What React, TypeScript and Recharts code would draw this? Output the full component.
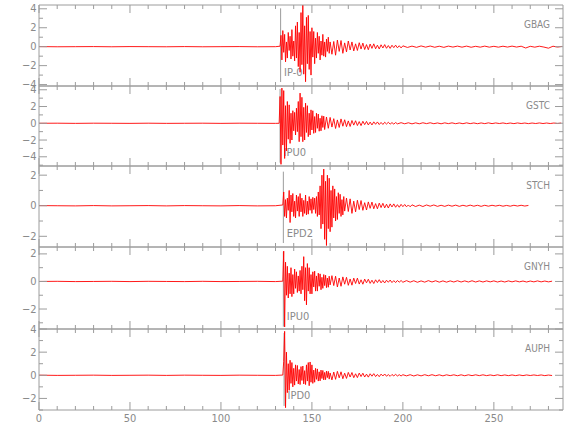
import React from 'react'
import { LineChart, Line, XAxis, YAxis, ReferenceLine } from 'recharts'

// ---- axis setup ----
const X_MAX = 288
const X_MAJOR = [0, 50, 100, 150, 200, 250]
const X_TICKS = [0, 10, 20, 30, 40, 50, 60, 70, 80, 90, 100, 110, 120, 130, 140, 150, 160, 170, 180, 190, 200, 210, 220, 230, 240, 250, 260, 270, 280]

const stations = ['GBAG', 'GSTC', 'STCH', 'GNYH', 'AUPH']
const phases = ['IP-0', 'IPU0', 'EPD2', 'IPU0', 'IPD0']
const pickTimes = [132.8, 132.5, 134.3, 134.3, 134.7]
const pickTop = [4.05, 4.1, 2.23, 2.16, 3.65]
const pickBottom = [-3.73, -4.7, -2.44, -3.28, -2.65]

const yDomains = [
  [-4.15, 4.4],
  [-5.1, 4.45],
  [-2.7, 2.6],
  [-3.45, 2.5],
  [-3, 4],
]
const yTicks = [
  [-4, -3, -2, -1, 0, 1, 2, 3, 4],
  [-5, -4, -3, -2, -1, 0, 1, 2, 3, 4],
  [-2, -1, 0, 1, 2],
  [-3, -2, -1, 0, 1, 2],
  [-3, -2, -1, 0, 1, 2, 3, 4],
]
const yLabels = [
  [-4, -2, 0, 2, 4],
  [-4, -2, 0, 2, 4],
  [-2, 0, 2],
  [-2, 0, 2],
  [-2, 0, 2, 4],
]

// ---- traces (sampled segments: start, step, values) ----
const gbagPre = [0.01, -0.01, 0.0, 0.01, -0.01, 0.01, 0.0, -0.01, 0.01, -0.01, 0.0, 0.01, -0.01, 0.0]
const gbagBurst = [
  0.05, 1.2, -1.4, 1.7, -0.6, 1.3, -1.6, 0.5, -1.2, 1.5, -0.4, 1.1, -1.3, 1.8, -1.0, 0.6, -1.5, 2.2, -1.2, 2.6,
  -2.1, 1.5, -2.7, 3.6, -1.9, 4.4, -2.9, 2.2, -3.7, 3.1, -1.8, 3.3, -2.4, 1.6, -3.0, 2.0, -1.1, 1.6, -1.8, 0.9,
  -1.2, 1.5, -0.7, 1.1, -1.4, 0.6, -0.9, 1.3, -1.0, 0.5, -1.1, 0.8, -0.5, 1.0, -0.7, 0.5,
]
const gbagMid = [
  -0.8, 0.55, -0.9, 0.7, -0.5, 0.65, -0.7, 0.4, -0.55, 0.6, -0.35, 0.5, -0.45, 0.3, -0.4, 0.42, -0.25, 0.38, -0.3, 0.22,
  -0.32, 0.28, -0.18, 0.3, -0.22, 0.16, -0.24, 0.2, -0.14, 0.22, -0.17, 0.12, -0.18, 0.15, -0.1, 0.16, -0.12, 0.1, -0.13, 0.09,
]
const gbagTail = [
  -0.08, 0.06, -0.07, 0.08, -0.05, 0.07, -0.06, 0.05, -0.07, 0.06, -0.04, 0.06, -0.05, 0.06, -0.06, 0.04, -0.05, 0.06,
  -0.05, 0.04, -0.05, 0.05, -0.04, 0.06, -0.04, 0.05, -0.14, 0.04, -0.05, 0.05, -0.04, -0.16, 0.05, -0.04, 0.03,
]

const gstcPre = [0.0, 0.01, -0.01, 0.01, 0.0, -0.01, 0.01, -0.01, 0.0, 0.01, -0.01, 0.01, 0.0, -0.01]
const gstcBurst = [
  0.0, 3.2, -4.9, 4.2, -2.6, 3.9, -4.2, 2.1, -3.3, 2.6, -1.9, 2.2, -2.4, 1.2, -2.0, 1.5, -0.9, 1.3, -1.4, 1.8,
  -1.0, 2.6, -2.2, 3.6, -1.6, 3.1, -2.2, 1.9, -2.0, 2.4, -1.1, 2.1, -1.6, 1.2, -1.4, 1.6, -0.8, 1.5, -1.2, 0.8,
  -1.1, 1.2, -0.6, 1.1, -0.95, 0.6, -0.9, 0.9, -0.5, 0.85, -0.75,
]
const gstcMid = [
  0.75, -0.6, 0.7, -0.45, 0.55, -0.62, 0.4, -0.5, 0.52, -0.35, 0.42, -0.4, 0.28, -0.38, 0.33, -0.22, 0.3, -0.27, 0.2, -0.28,
  0.24, -0.16, 0.22, -0.2, 0.14, -0.2, 0.17, -0.12, 0.16, -0.15, 0.1, -0.14, 0.12, -0.09, 0.12, -0.1, 0.08, -0.1, 0.09, -0.07,
]
const gstcTail = [
  0.07, -0.06, 0.06, -0.07, 0.05, -0.06, 0.06, -0.04, 0.06, -0.05, 0.04, -0.06, 0.05, -0.04, 0.05, -0.05, 0.04, -0.05,
  0.05, -0.04, 0.04, -0.05, 0.04, -0.04, 0.05, -0.04, 0.04, -0.03, 0.04, -0.04, 0.03, -0.04, 0.04, -0.03, 0.03,
  -0.04, 0.03, -0.03, 0.04, -0.03, 0.03, -0.03, 0.03, -0.03, 0.03,
]

const stchPre = [0.01, 0.0, -0.01, 0.01, -0.01, 0.0, 0.01, -0.01, 0.01, 0.0, -0.01, 0.01, -0.01, 0.0]
const stchBurst = [
  0.05, 0.9, -0.7, 0.4, -0.8, 0.5, -0.3, 1.0, -1.1, 0.7, -0.4, 0.8, -0.7, 0.3, -0.8, 0.7, -0.35, 0.6, -0.7, 0.8,
  -0.4, 0.5, -0.7, 0.35, -0.5, 0.7, -0.6, 0.3, -0.55, 0.6, -0.3, 0.45, -0.5, 0.55, -0.25, 0.5, -0.5, 0.6, -0.7, 0.9,
  -0.6, 1.3, -1.5, 2.0, -1.2, 2.4, -2.2, 1.6, -2.6, 2.0, -1.5, 1.8, -1.7, 1.0, -1.4, 1.3, -0.8, 1.1, -1.0, 0.6,
  -0.9, 0.85, -0.5, 0.75, -0.7, 0.4, -0.6, 0.6, -0.35,
]
const stchMid = [
  0.5, -0.38, 0.45, -0.5, 0.3, -0.4, 0.36, -0.25, 0.34, -0.3, 0.2, -0.28, 0.25, -0.17, 0.24, -0.2, 0.14, -0.2, 0.17,
  -0.12, 0.16, -0.14, 0.1, -0.15, 0.12, -0.08, 0.12, -0.1, 0.07, -0.1, 0.09, -0.06, 0.08, -0.07, 0.05, -0.07, 0.06,
]
const stchTail = [
  -0.05, 0.04, -0.05, 0.05, -0.03, 0.05, -0.04, 0.03, -0.04, 0.04, -0.03, 0.04, -0.04, 0.03, -0.03, 0.04,
  -0.03, 0.03, -0.04, 0.03, -0.03, 0.03, -0.02, 0.03, -0.03, 0.02, -0.03, 0.03, -0.02, 0.03, -0.02, 0.02,
]

const gnyhPre = [0.0, 0.01, -0.01, 0.0, 0.01, -0.01, 0.01, 0.0, -0.01, 0.01, -0.01, 0.0, 0.01, -0.01]
const gnyhBurst = [
  0.02, 2.2, -3.3, 1.4, -1.0, 1.1, -1.2, 0.6, -0.9, 1.0, -1.1, 0.5, -0.9, 0.9, -0.5, 0.7, -0.8, 0.4, -0.7, 0.8,
  -0.9, 1.1, -0.6, 1.8, -1.4, 1.0, -1.7, 1.3, -0.7, 1.0, -0.9, 0.5, -0.9, 0.7, -0.4, 0.75, -0.7, 0.4, -0.7, 0.6,
  -0.35, 0.55, -0.6, 0.3, -0.5, 0.5, -0.3, 0.45, -0.45, 0.25, -0.42, 0.38, -0.25,
]
const gnyhMid = [
  0.42, -0.3, 0.38, -0.4, 0.25, -0.35, 0.33, -0.2, 0.3, -0.28, 0.18, -0.27, 0.24, -0.15, 0.24, -0.19, 0.12, -0.2, 0.17, -0.1,
  0.16, -0.14, 0.09, -0.15, 0.12, -0.08, 0.13, -0.1, 0.07, -0.11, 0.09, -0.06, 0.1, -0.08, 0.06, -0.08, 0.07, -0.05, 0.07, -0.06,
]
const gnyhTail = [
  0.06, -0.05, 0.05, -0.06, 0.04, -0.05, 0.06, -0.04, 0.05, -0.05, 0.04, -0.05, 0.04, -0.04, 0.05, -0.04, 0.04,
  -0.04, 0.05, -0.04, 0.04, -0.04, 0.04, -0.03, 0.04, -0.04, 0.03, -0.04, 0.04, -0.03, 0.04, -0.03, 0.03, -0.04,
  0.03, -0.03, 0.04, -0.03, 0.03, -0.03, 0.02,
]

const auphPre = [0.01, -0.01, 0.0, 0.01, -0.01, 0.0, 0.01, -0.01, 0.01, 0.0, -0.01, 0.01, 0.0, -0.01]
const auphBurst = [
  0.02, 1.2, 3.8, -2.8, 2.0, -1.5, 1.0, -1.3, 1.3, -0.7, 1.1, -1.0, 0.6, -0.85, 0.9, -0.5, 0.85, -0.75, 0.5, -0.8,
  0.75, -0.45, 0.8, -0.75, 0.4, -0.8, 0.9, -0.5, 1.1, -0.9, 1.15, -0.6, 0.9, -0.7, 0.45, -0.6, 0.6, -0.35, 0.55, -0.5,
  0.3, -0.48, 0.45, -0.28, 0.42, -0.4, 0.25, -0.38, 0.36, -0.2, 0.34, -0.33, 0.2,
]
const auphMid = [
  -0.4, 0.28, -0.35, 0.34, -0.22, 0.3, -0.3, 0.18, -0.27, 0.25, -0.15, 0.24, -0.21, 0.13, -0.2, 0.19, -0.11, 0.18, -0.15, 0.1,
  -0.16, 0.13, -0.08, 0.14, -0.11, 0.07, -0.12, 0.1, -0.06, 0.11, -0.08, 0.06, -0.09, 0.07, -0.05, 0.08, -0.06, 0.05, -0.06, 0.05,
]
const auphTail = [
  -0.05, 0.05, -0.06, 0.04, -0.05, 0.05, -0.04, 0.05, -0.04, 0.04, -0.05, 0.04, -0.03, 0.04, -0.04, 0.04, -0.04,
  0.04, -0.03, 0.04, -0.03, 0.04, -0.03, 0.03, -0.03, 0.04, -0.03, 0.03, -0.03, 0.03, -0.03, 0.03, -0.03, 0.03,
  -0.02, 0.03, -0.02, 0.03, -0.03, 0.02, -0.02,
]

type Part = [number, number, number[]]
const traces: Part[][] = [
  [[0, 10, gbagPre], [132.5, 0.5, gbagBurst], [161, 1, gbagMid], [202.5, 2.5, gbagTail]],
  [[0, 10, gstcPre], [132, 0.5, gstcBurst], [158, 1, gstcMid], [199, 2, gstcTail]],
  [[0, 10, stchPre], [134, 0.5, stchBurst], [169, 1, stchMid], [207, 2, stchTail]],
  [[0, 10, gnyhPre], [134, 0.5, gnyhBurst], [161, 1, gnyhMid], [202, 2, gnyhTail]],
  [[0, 10, auphPre], [134, 0.5, auphBurst], [161, 1, auphMid], [202, 2, auphTail]],
]

function toRows(parts: Part[]) {
  const rows: { t: number; v: number }[] = []
  parts.forEach(([start, step, vals]) => {
    vals.forEach((v, i) => rows.push({ t: +(start + i * step).toFixed(2), v }))
  })
  return rows
}

// ---- layout / style ----
const panelTops = [5, 86, 166, 247, 329]
const panelHeights = [81, 80, 81, 82, 81]
const AXIS = '#9c9c9c'
const TEXT = '#8a8a8a'
const TRACE = '#ff0000'
const FONT = "'Liberation Sans Narrow', 'DejaVu Sans Condensed', 'Liberation Sans', Arial, sans-serif"
const tickStyle = { fontFamily: FONT, fontSize: 11, fill: TEXT }

const fmt = (v: number) => (v < 0 ? '\u2212' + Math.abs(v) : String(v))

function PhaseLabel(props: any) {
  const vb = props.viewBox
  if (!vb) return null
  return (
    <text x={vb.x + 3.5} y={vb.y + vb.height - 6.5} style={tickStyle}>
      {props.text}
    </text>
  )
}

function Panel({ i }: { i: number }) {
  const last = i === stations.length - 1
  const padT = 8
  const padB = last ? 25 : 8
  const labels = yLabels[i]
  const rows = toRows(traces[i])

  const leftTick = ({ x, y, payload }: any) => {
    const major = labels.includes(payload.value)
    return (
      <g>
        <line x1={x} y1={y} x2={x + (major ? 8 : 4)} y2={y} stroke={AXIS} />
        {major && (
          <text x={x - 2.5} y={y} textAnchor="end" dominantBaseline="central" style={tickStyle}>
            {fmt(payload.value)}
          </text>
        )}
      </g>
    )
  }
  const rightTick = ({ x, y, payload }: any) => {
    const major = labels.includes(payload.value)
    return <line x1={x} y1={y} x2={x - (major ? 8 : 4)} y2={y} stroke={AXIS} />
  }
  const topTick = ({ x, y, payload }: any) => {
    const major = X_MAJOR.includes(payload.value)
    return <line x1={x} y1={y} x2={x} y2={y + (major ? 8 : 4)} stroke={AXIS} />
  }
  const bottomTick = ({ x, y, payload }: any) => {
    const major = X_MAJOR.includes(payload.value)
    return (
      <g>
        <line x1={x} y1={y} x2={x} y2={y - (major ? 8 : 4)} stroke={AXIS} />
        {last && major && (
          <text x={x} y={y + 12} textAnchor="middle" style={tickStyle}>
            {payload.value}
          </text>
        )}
      </g>
    )
  }

  return (
    <div style={{ position: 'absolute', left: 0, top: panelTops[i] - padT }}>
      <LineChart
        width={580}
        height={panelHeights[i] + padT + padB}
        data={rows}
        margin={{ top: padT, right: 17, bottom: padB, left: 39 }}
      >
        <XAxis
          xAxisId="b"
          type="number"
          dataKey="t"
          domain={[0, X_MAX]}
          allowDataOverflow
          ticks={X_TICKS}
          interval={0}
          orientation="bottom"
          mirror
          tickSize={0}
          tickMargin={0}
          tickLine={false}
          axisLine={{ stroke: AXIS }}
          tick={bottomTick}
        />
        <XAxis
          xAxisId="t"
          type="number"
          dataKey="t"
          domain={[0, X_MAX]}
          allowDataOverflow
          ticks={X_TICKS}
          interval={0}
          orientation="top"
          mirror
          tickSize={0}
          tickMargin={0}
          tickLine={false}
          axisLine={{ stroke: AXIS }}
          tick={topTick}
        />
        <YAxis
          yAxisId="l"
          type="number"
          domain={yDomains[i]}
          allowDataOverflow
          ticks={yTicks[i]}
          interval={0}
          orientation="left"
          mirror
          tickSize={0}
          tickMargin={0}
          tickLine={false}
          axisLine={{ stroke: AXIS }}
          tick={leftTick}
        />
        <YAxis
          yAxisId="r"
          type="number"
          domain={yDomains[i]}
          allowDataOverflow
          ticks={yTicks[i]}
          interval={0}
          orientation="right"
          mirror
          tickSize={0}
          tickMargin={0}
          tickLine={false}
          axisLine={{ stroke: AXIS }}
          tick={rightTick}
        />
        <ReferenceLine
          xAxisId="b"
          yAxisId="l"
          segment={[
            { x: pickTimes[i], y: pickTop[i] },
            { x: pickTimes[i], y: pickBottom[i] },
          ]}
          stroke={AXIS}
          label={(p: any) => <PhaseLabel {...p} text={phases[i]} />}
        />
        <Line
          xAxisId="b"
          yAxisId="l"
          type="linear"
          dataKey="v"
          stroke={TRACE}
          strokeWidth={0.9}
          dot={false}
          isAnimationActive={false}
        />
      </LineChart>
      <div
        style={{
          position: 'absolute',
          left: 0,
          width: 550,
          top: padT + 14,
          textAlign: 'right',
          fontFamily: FONT,
          fontSize: 10,
          lineHeight: '12px',
          color: TEXT,
        }}
      >
        {stations[i]}
      </div>
    </div>
  )
}

export default function App() {
  return (
    <div style={{ position: 'absolute', left: 0, top: 0, width: 580, height: 440, background: '#fff' }}>
      {stations.map((s, i) => (
        <Panel key={s} i={i} />
      ))}
    </div>
  )
}
